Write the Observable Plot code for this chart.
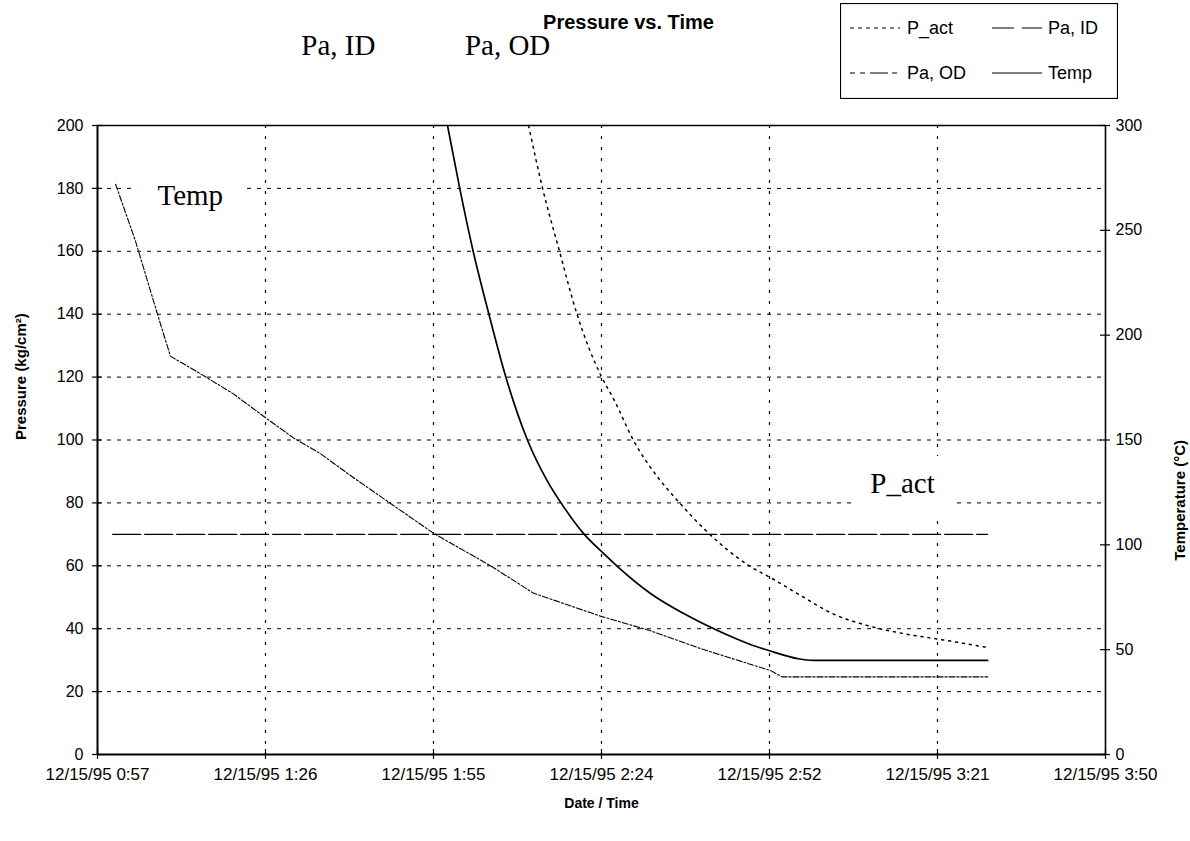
<!DOCTYPE html>
<html>
<head>
<meta charset="utf-8">
<script src="https://cdn.jsdelivr.net/npm/d3@7"></script>
<script src="https://cdn.jsdelivr.net/npm/@observablehq/plot@0.6"></script>
<style>
  body { margin: 0; background: #fff; }
  #wrap { position: relative; width: 1190px; height: 841px; }
  #legend { position: absolute; left: 840px; top: 3px; }
</style>
</head>
<body>
<div id="wrap"></div>
<script>
// ---------- data (time = minutes after midnight, 12/15/95) ----------
const seriesNames = ["P_act", "Pa, ID", "Pa, OD", "Temp"];

const pActTime  = [60.2, 210.2];
const pActValue = [70, 70];                       // kg/cm²

const paIdTime  = [117.6, 119.7, 122.0, 124.7, 127.6, 131.3, 134.7, 137.6, 140.9, 144.3, 146.9, 152.4, 158.1, 163.9, 169.5, 172.8, 177.6, 180.2, 210.2];
const paIdValue = [200, 180, 160, 140, 120, 100, 87, 78.5, 70.3, 64, 59.5, 51.2, 44.8, 39.4, 35, 33, 30.5, 29.9, 29.9];

const paOdTime  = [131.5, 133.9, 136.8, 139.8, 141.9, 143.9, 146.2, 149.5, 153.8, 157.5, 161.5, 169.5, 173.2, 178.1, 183.6, 189.6, 195.6, 203.4, 210.2];
const paOdValue = [200, 180, 160, 140, 129, 120.5, 112.6, 99.8, 87.8, 79.8, 71.9, 59.8, 56, 50.6, 44.8, 41, 38.5, 36.2, 34];

const tempTime  = [60.7, 64.1, 68.1, 70.1, 75.3, 80.9, 86.7, 91.2, 95.8, 101.5, 115.2, 125.0, 132.3, 143.8, 152.4, 161.0, 169.0, 173.0, 175.0, 210.2];
const tempValue = [272, 245, 208, 190, 181.5, 172, 160, 151, 143.5, 132, 105.5, 90, 77, 66, 59, 50.5, 43.5, 40, 37, 37];   // °C

const xTicks      = [57.6, 86.4, 115.2, 144.0, 172.8, 201.6, 230.4];
const xTickLabels = ["12/15/95 0:57", "12/15/95 1:26", "12/15/95 1:55", "12/15/95 2:24", "12/15/95 2:52", "12/15/95 3:21", "12/15/95 3:50"];
const yTicks      = [0, 20, 40, 60, 80, 100, 120, 140, 160, 180, 200];
const tempTicks   = [0, 50, 100, 150, 200, 250, 300];
const tempRatio   = 300 / 200;   // right axis °C per left-axis unit

const annotations = [
  {label: "Pa, ID", t: 98.9,  v: 225.4},
  {label: "Pa, OD", t: 127.9, v: 225.4},
  {label: "Temp",   t: 73.5,  v: 177.7},
  {label: "P_act",  t: 195.6, v: 86.2}
];

// ---------- build rows ----------
const zip = (ts, vs, k) => ts.map((t, i) => ({t, v: vs[i], series: k}));
const pAct = zip(pActTime, pActValue, "P_act");
const paId = zip(paIdTime, paIdValue, "Pa, ID");
const paOd = zip(paOdTime, paOdValue, "Pa, OD");
const temp = zip(tempTime, tempValue.map(d => d / tempRatio), "Temp");

const W = 1190, H = 841, mL = 97, mR = 85, mT = 125, mB = 87;
const fw = W - mL - mR, fh = H - mT - mB;
const sans = "'Liberation Sans', Arial, sans-serif";
const serif = "'Liberation Serif', 'Times New Roman', serif";

const chart = Plot.plot({
  width: W, height: H,
  marginLeft: mL, marginRight: mR, marginTop: mT, marginBottom: mB,
  x: {domain: [xTicks[0], xTicks[xTicks.length - 1]], axis: null},
  y: {domain: [0, 200], axis: null},
  style: {fontFamily: sans, background: "#fff", color: "#000", overflow: "visible"},
  marks: [
    // grid
    Plot.gridY(yTicks.slice(1, -1), {stroke: "#000", strokeOpacity: 1, strokeWidth: 1, strokeDasharray: "4,6"}),
    Plot.gridX(xTicks.slice(1, -1), {stroke: "#000", strokeOpacity: 1, strokeWidth: 1.2, strokeDasharray: "3,8"}),
    // white boxes behind in-plot annotations
    Plot.text(annotations.filter(d => d.v < 200), {x: "t", y: "v", text: "label", fontFamily: serif, fontSize: 29,
      fill: "#fff", stroke: "#fff", strokeWidth: 42, strokeLinejoin: "round"}),
    // frame
    Plot.ruleY([200], {stroke: "#000", strokeWidth: 1.3}),
    Plot.ruleY([0], {stroke: "#000", strokeWidth: 2}),
    Plot.ruleX([xTicks[0]], {stroke: "#000", strokeWidth: 2}),
    Plot.ruleX([xTicks[xTicks.length - 1]], {stroke: "#000", strokeWidth: 1.6}),
    // cross ticks
    Plot.tickY(yTicks, {y: d => d, stroke: "#000", strokeWidth: 1.2, insetLeft: -5, insetRight: fw - 5}),
    Plot.tickY(tempTicks.map(d => d / tempRatio), {y: d => d, stroke: "#000", strokeWidth: 1.2, insetLeft: fw - 5, insetRight: -5}),
    Plot.tickX(xTicks, {x: d => d, stroke: "#000", strokeWidth: 1.2, insetTop: fh - 5, insetBottom: -5}),
    // tick labels
    Plot.axisY(yTicks, {anchor: "left", label: null, tickSize: 0, tickPadding: 14, fontSize: 16, fill: "#000"}),
    Plot.axisY(tempTicks.map(d => d / tempRatio), {anchor: "right", label: null, tickSize: 0, tickPadding: 10, fontSize: 16, fill: "#000",
      tickFormat: d => String(Math.round(d * tempRatio))}),
    Plot.axisX(xTicks, {anchor: "bottom", label: null, tickSize: 0, tickPadding: 13, fontSize: 17, fill: "#000",
      tickFormat: d => xTickLabels[xTicks.indexOf(d)]}),
    // series
    Plot.line(temp, {x: "t", y: "v", stroke: "#000", strokeWidth: 1.1, strokeDasharray: "6,2,2,2"}),
    Plot.line(pAct, {x: "t", y: "v", stroke: "#000", strokeWidth: 1.3, strokeDasharray: "28,4"}),
    Plot.line(paId, {x: "t", y: "v", stroke: "#000", strokeWidth: 1.7, curve: "monotone-x"}),
    Plot.line(paOd, {x: "t", y: "v", stroke: "#000", strokeWidth: 1.5, strokeDasharray: "2,5", curve: "monotone-x"}),
    // annotations
    Plot.text(annotations, {x: "t", y: "v", text: "label", fontFamily: serif, fontSize: 29, fill: "#000", clip: false}),
    // titles
    Plot.text(["Pressure vs. Time"], {frameAnchor: "top", lineAnchor: "middle", dx: 27, dy: -103, fontSize: 20, fontWeight: "bold", fill: "#000"}),
    Plot.text(["Date / Time"], {frameAnchor: "bottom", lineAnchor: "middle", dy: 49, fontSize: 14, fontWeight: "bold", fill: "#000"}),
    Plot.text(["Pressure (kg/cm²)"], {frameAnchor: "left", dx: -76, rotate: -90, fontSize: 15, fontWeight: "bold", fill: "#000"}),
    Plot.text(["Temperature (°C)"], {frameAnchor: "right", dx: 75, rotate: -90, fontSize: 15, fontWeight: "bold", fill: "#000"})
  ]
});
document.getElementById("wrap").appendChild(chart);

// ---------- legend ----------
const legendItems = [
  {name: seriesNames[0], dash: "4,4",            col: 0, row: 0},
  {name: seriesNames[1], dash: "22,8",           col: 1, row: 0},
  {name: seriesNames[2], dash: "5,5,5,5,18,4",   col: 0, row: 1},
  {name: seriesNames[3], dash: null,             col: 1, row: 1}
];
const lg = d3.select("#wrap").append("svg").attr("id", "legend")
  .attr("width", 278).attr("height", 96)
  .style("font-family", sans).style("font-size", "18px");
lg.append("rect").attr("x", 0.5).attr("y", 0.5).attr("width", 277).attr("height", 95)
  .attr("fill", "#fff").attr("stroke", "#000").attr("stroke-width", 1.2);
const colX = [10, 152], rowY = [25, 70];
for (const it of legendItems) {
  const x0 = colX[it.col], y0 = rowY[it.row];
  lg.append("line").attr("x1", x0).attr("x2", x0 + 50).attr("y1", y0).attr("y2", y0)
    .attr("stroke", "#000").attr("stroke-width", 1.2).attr("stroke-dasharray", it.dash);
  lg.append("text").attr("x", x0 + (it.col === 0 ? 57 : 56)).attr("y", y0).attr("dy", "0.35em").text(it.name);
}
</script>
</body>
</html>
